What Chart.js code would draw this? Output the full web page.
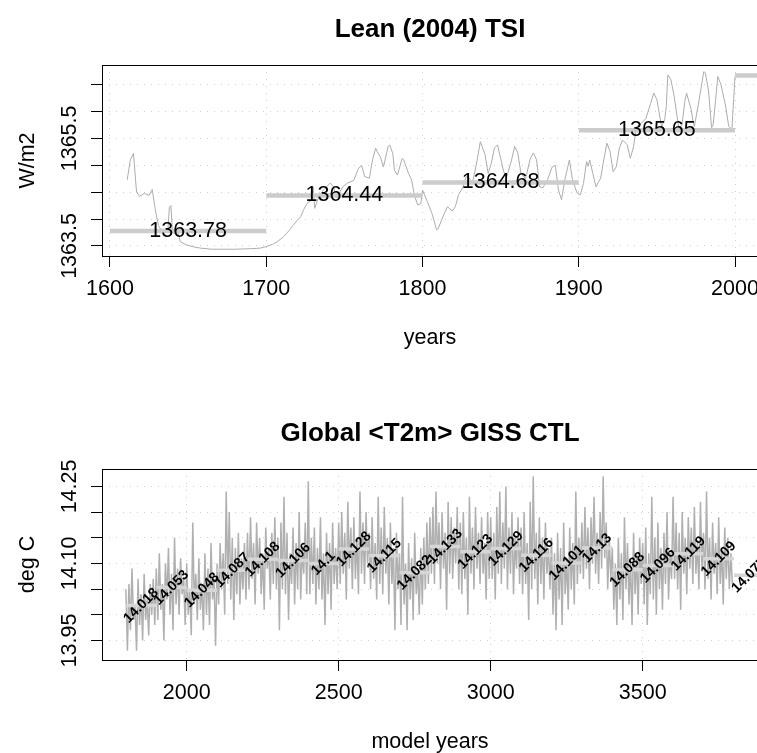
<!DOCTYPE html>
<html>
<head>
<meta charset="utf-8">
<script src="https://cdn.jsdelivr.net/npm/chart.js@4.4.0/dist/chart.umd.min.js"></script>
<style>
  html, body { margin: 0; padding: 0; background: #fff; overflow: hidden; }
  #wrap { position: relative; width: 757px; height: 753px; overflow: hidden; }
  canvas { position: absolute; left: 0; }
  #tsiChart { top: 0; }
  #t2mChart { top: 404px; }
</style>
</head>
<body>
<div id="wrap">
  <canvas id="tsiChart" width="760" height="404"></canvas>
  <canvas id="t2mChart" width="760" height="349"></canvas>
</div>
<script>
// Lean (2004) TSI
const tsiYears = [1611, 1613, 1615, 1617, 1619, 1622, 1625, 1627, 1629, 1631, 1634, 1637, 1638, 1639, 1640,
  1642, 1643, 1645, 1649, 1654, 1658, 1665, 1680, 1690, 1696, 1700, 1704, 1707, 1711, 1715, 1717, 1720,
  1722, 1724, 1726, 1729, 1730, 1731, 1734, 1737, 1741, 1743, 1745, 1749, 1752, 1756, 1759, 1761, 1763,
  1766, 1768, 1770, 1771, 1773, 1775, 1778, 1779, 1781, 1782, 1784, 1787, 1788, 1791, 1793, 1795, 1797,
  1799, 1800, 1803, 1806, 1809, 1810, 1813, 1816, 1819, 1821, 1823, 1826, 1828, 1830, 1832, 1835, 1837,
  1840, 1842, 1844, 1846, 1848, 1852, 1854, 1857, 1859, 1861, 1863, 1866, 1869, 1871, 1873, 1875, 1877,
  1880, 1883, 1885, 1887, 1889, 1891, 1894, 1896, 1899, 1901, 1903, 1905, 1906, 1907, 1909, 1911, 1914,
  1916, 1918, 1920, 1922, 1924, 1926, 1928, 1931, 1933, 1935, 1937, 1939, 1941, 1943, 1946, 1948, 1950,
  1953, 1955, 1956, 1957, 1959, 1961, 1964, 1966, 1968, 1969, 1972, 1973, 1974, 1977, 1980, 1981, 1983,
  1985, 1986, 1988, 1989, 1991, 1994, 1996, 1998, 2000];
const tsiValues = [1364.73, 1365.10, 1365.22, 1364.50, 1364.42, 1364.48, 1364.44, 1364.55, 1364.17, 1363.88,
  1363.74, 1363.78, 1364.22, 1364.25, 1363.75, 1363.72, 1363.82, 1363.58, 1363.52, 1363.48, 1363.46, 1363.44,
  1363.44, 1363.45, 1363.46, 1363.49, 1363.53, 1363.58, 1363.67, 1363.80, 1363.88, 1363.98, 1364.04, 1364.18,
  1364.29, 1364.35, 1364.60, 1364.20, 1364.45, 1364.55, 1364.67, 1364.60, 1364.40, 1364.60, 1364.67, 1364.72,
  1364.94, 1365.00, 1364.79, 1364.76, 1365.10, 1365.32, 1365.25, 1365.16, 1364.97, 1365.35, 1365.38, 1365.22,
  1364.91, 1364.82, 1365.13, 1365.10, 1364.85, 1364.73, 1364.42, 1364.26, 1364.29, 1364.54, 1364.33, 1364.11,
  1363.80, 1363.82, 1364.04, 1364.23, 1364.15, 1364.23, 1364.45, 1364.60, 1364.79, 1364.76, 1364.67, 1365.10,
  1365.44, 1365.20, 1364.85, 1365.03, 1365.32, 1365.38, 1364.88, 1364.79, 1365.10, 1365.35, 1365.23, 1364.85,
  1364.75, 1365.13, 1365.23, 1365.10, 1364.60, 1364.58, 1364.73, 1364.97, 1365.00, 1364.54, 1364.36, 1364.72,
  1365.10, 1364.73, 1364.48, 1364.45, 1364.66, 1365.07, 1364.98, 1365.10, 1364.85, 1364.60, 1364.76, 1365.10,
  1365.41, 1365.26, 1364.88, 1364.97, 1365.32, 1365.47, 1365.38, 1365.13, 1365.34, 1365.72, 1365.75, 1365.81,
  1365.87, 1366.15, 1366.34, 1366.22, 1365.72, 1365.85, 1366.09, 1366.68, 1366.59, 1366.29, 1365.70, 1365.74,
  1366.21, 1366.34, 1366.03, 1365.84, 1365.72, 1366.21, 1366.74, 1366.72, 1366.40, 1365.70, 1365.75, 1366.34,
  1366.65, 1366.50, 1366.10, 1365.72, 1365.67, 1366.65];
const tsiSegStart = [1600, 1700, 1800, 1900, 2000];
const tsiSegEnd = [1700, 1800, 1900, 2000, 2100];
const tsiSegMean = [1363.78, 1364.44, 1364.68, 1365.65, 1366.67];
const tsiXTicks = [1600, 1700, 1800, 1900, 2000];
const tsiYTicks = [1363.5, 1364, 1364.5, 1365, 1365.5, 1366, 1366.5];
const tsiYLabels = ['1363.5', '', '', '', '1365.5', '', ''];

// Global <T2m>, GISS control run, one reading every 5 model years from 1800
const t2mValues = [
  14.05, 13.93, 14.06, 13.97, 14.09, 13.99, 14.02, 13.93, 14.07, 13.98, 14.04, 13.95, 14.08, 13.99, 14.03, 13.96, 14.06, 14.00, 14.07, 13.98,
  14.09, 13.99, 14.12, 14.01, 14.06, 13.95, 14.10, 14.03, 14.13, 14.00, 14.08, 13.97, 14.15, 14.02, 14.09, 14.00, 14.11, 14.04, 14.07, 13.98,
  14.10, 14.00, 14.05, 13.96, 14.18, 14.02, 14.08, 13.99, 14.11, 14.01, 14.06, 13.97, 14.12, 14.00, 14.09, 13.98, 14.14, 14.03, 14.07, 13.94,
  14.10, 14.02, 14.14, 14.05, 14.12, 14.00, 14.24, 14.06, 14.20, 14.03, 14.15, 13.99, 14.13, 14.04, 14.16, 14.02, 14.11, 14.05, 14.14, 14.03,
  14.16, 14.05, 14.19, 14.07, 14.14, 14.02, 14.18, 14.08, 14.15, 14.04, 14.12, 14.01, 14.17, 14.09, 14.13, 14.03, 14.16, 14.06, 14.19, 14.05,
  14.15, 13.97, 14.18, 14.05, 14.23, 14.04, 14.16, 13.99, 14.12, 14.06, 14.17, 14.02, 14.14, 14.05, 14.20, 14.03, 14.13, 14.08, 14.18, 14.04,
  14.26, 14.04, 14.15, 14.06, 14.17, 14.02, 14.13, 14.05, 14.19, 14.03, 14.12, 13.98, 14.16, 14.04, 14.14, 14.01, 14.18, 14.06, 14.13, 14.05,
  14.18, 14.06, 14.20, 14.08, 14.16, 14.03, 14.22, 14.09, 14.17, 14.05, 14.19, 14.07, 14.15, 14.04, 14.24, 14.08, 14.18, 14.06, 14.20, 14.10,
  14.16, 14.05, 14.19, 14.07, 14.14, 14.03, 14.23, 14.06, 14.17, 14.04, 14.21, 14.08, 14.15, 14.02, 14.18, 14.06, 14.13, 13.97, 14.16, 14.05,
  14.12, 13.98, 14.23, 14.02, 14.10, 13.97, 14.14, 14.03, 14.11, 13.99, 14.16, 14.04, 14.09, 14.00, 14.13, 14.02, 14.15, 14.05, 14.18, 14.06,
  14.19, 14.08, 14.21, 14.06, 14.24, 14.10, 14.18, 14.05, 14.20, 14.09, 14.16, 14.01, 14.22, 14.08, 14.19, 14.07, 14.17, 14.10, 14.21, 14.05,
  14.18, 14.04, 14.20, 14.07, 14.15, 14.00, 14.23, 14.08, 14.17, 14.05, 14.21, 14.09, 14.16, 14.06, 14.19, 14.08, 14.14, 14.03, 14.20, 14.07,
  14.19, 14.07, 14.16, 14.03, 14.21, 14.08, 14.24, 14.06, 14.18, 14.09, 14.25, 14.05, 14.17, 14.08, 14.20, 14.04, 14.15, 14.09, 14.19, 14.06,
  14.17, 14.04, 14.20, 14.06, 14.14, 13.99, 14.22, 14.05, 14.27, 14.07, 14.16, 14.02, 14.19, 14.06, 14.15, 14.03, 14.18, 14.08, 14.13, 14.05,
  14.15, 14.00, 14.12, 13.97, 14.16, 14.03, 14.13, 13.98, 14.18, 14.04, 14.11, 14.01, 14.17, 14.05, 14.14, 14.02, 14.24, 14.06, 14.15, 14.08,
  14.18, 14.07, 14.21, 14.09, 14.17, 14.05, 14.19, 14.10, 14.23, 14.08, 14.16, 14.06, 14.20, 14.09, 14.27, 14.11, 14.18, 14.05, 14.15, 14.07,
  14.13, 14.01, 14.10, 13.98, 14.15, 14.03, 14.12, 13.99, 14.19, 14.05, 14.14, 14.02, 14.11, 13.98, 14.16, 14.04, 14.12, 14.00, 14.15, 14.06,
  14.14, 14.02, 14.17, 13.98, 14.12, 14.04, 14.23, 14.03, 14.15, 14.00, 14.18, 14.05, 14.13, 14.01, 14.16, 14.06, 14.20, 14.03, 14.12, 14.07,
  14.23, 14.07, 14.18, 14.05, 14.16, 14.01, 14.20, 14.08, 14.15, 14.04, 14.19, 14.09, 14.17, 14.06, 14.21, 14.08, 14.14, 14.05, 14.22, 14.09,
  14.16, 14.05, 14.24, 14.07, 14.15, 14.03, 14.18, 14.08, 14.14, 14.04, 14.19, 14.06, 14.13, 14.02, 14.17, 14.07, 14.15, 14.05, 14.12, 14.06
];
const t2mYears = t2mValues.map((v, i) => 1800 + 5 * i);
const t2mSegStart = [1800, 1900, 2000, 2100, 2200, 2300, 2400, 2500, 2600, 2700, 2800,
  2900, 3000, 3100, 3200, 3300, 3400, 3500, 3600, 3700, 3800];
const t2mSegEnd = t2mSegStart.map(s => s + 100);
const t2mSegMean = [14.018, 14.053, 14.048, 14.087, 14.108, 14.106, 14.1, 14.128, 14.115, 14.082, 14.133,
  14.123, 14.129, 14.116, 14.101, 14.13, 14.088, 14.096, 14.119, 14.109, 14.077];
const t2mXTicks = [2000, 2500, 3000, 3500];
const t2mYTicks = [13.95, 14.0, 14.05, 14.1, 14.15, 14.2, 14.25];
const t2mYLabels = ['13.95', '', '', '14.10', '', '', '14.25'];

const FONT = '"Liberation Sans", Arial, Helvetica, sans-serif';

// one R-style panel: boxed plot, dotted grid, outside ticks, mean bars with labels
function makePanel(id, p) {
  const el = document.getElementById(id);
  const H = el.height;

  const segPoints = [];
  p.segStart.forEach((s, i) => {
    segPoints.push({ x: s, y: p.segMean[i] }, { x: p.segEnd[i], y: p.segMean[i] }, { x: p.segEnd[i], y: null });
  });

  const panelText = {
    id: 'panelText',
    afterDatasetsDraw(chart) {
      const { ctx, chartArea: a, scales: { x, y } } = chart;
      ctx.save();
      ctx.beginPath();
      ctx.rect(a.left, a.top, a.width, a.height);
      ctx.clip();
      ctx.fillStyle = '#000';
      ctx.font = p.segFont;
      ctx.textAlign = 'center';
      ctx.textBaseline = 'middle';
      p.segStart.forEach((s, i) => {
        const px = x.getPixelForValue((s + p.segEnd[i]) / 2);
        const py = y.getPixelForValue(p.segMean[i]);
        ctx.save();
        ctx.translate(px, py);
        ctx.rotate(-p.segRot * Math.PI / 180);
        ctx.fillText(String(p.segMean[i]), 0, 0);
        ctx.restore();
      });
      ctx.restore();
    },
    afterDraw(chart) {
      const { ctx, chartArea: a, scales: { y } } = chart;
      ctx.save();
      ctx.strokeStyle = '#000';
      ctx.lineWidth = 1;
      ctx.strokeRect(Math.round(a.left) + 0.5, Math.round(a.top) + 0.5, Math.round(a.width), Math.round(a.height));

      ctx.fillStyle = '#000';
      ctx.font = '21.5px ' + FONT;
      ctx.textAlign = 'center';
      ctx.textBaseline = 'alphabetic';
      p.yTicks.forEach((v, i) => {
        if (!p.yLabels[i]) return;
        ctx.save();
        ctx.translate(75.5, y.getPixelForValue(v));
        ctx.rotate(-Math.PI / 2);
        ctx.fillText(p.yLabels[i], 0, 0);
        ctx.restore();
      });
      ctx.save();
      ctx.translate(33.5, (a.top + a.bottom) / 2);
      ctx.rotate(-Math.PI / 2);
      ctx.fillText(p.ylab, 0, 0);
      ctx.restore();
      ctx.fillText(p.xlab, 430, 343.5);

      ctx.font = 'bold 26px ' + FONT;
      ctx.fillText(p.title, 430, 36.5);
      ctx.restore();
    }
  };

  return new Chart(el, {
    type: 'line',
    data: {
      datasets: [
        {
          data: p.years.map((yr, i) => ({ x: yr, y: p.values[i] })),
          borderColor: p.lineColor,
          borderWidth: p.lineWidth,
          pointRadius: 0,
          tension: 0,
          order: 2
        },
        {
          data: segPoints,
          borderColor: p.segColor,
          borderWidth: p.segWidth,
          borderCapStyle: 'butt',
          pointRadius: 0,
          spanGaps: false,
          order: 1
        }
      ]
    },
    options: {
      responsive: false,
      animation: false,
      devicePixelRatio: 1,
      layout: { padding: { top: 65, right: 2, left: 0, bottom: 0 } },
      plugins: { legend: { display: false }, tooltip: { enabled: false } },
      scales: {
        x: {
          type: 'linear',
          min: p.xMin,
          max: p.xMax,
          afterBuildTicks: s => { s.ticks = p.xTicks.map(v => ({ value: v })); },
          // fixed height, and no extra room for the last label (it runs off the page as in R)
          afterFit: s => { s.height = H - 256; s.paddingLeft = 0; s.paddingRight = 0; },
          grid: { color: '#cfcfcf', lineWidth: 1, tickColor: '#000', tickLength: 11, tickBorderDash: [] },
          border: { display: false, dash: [1, 6] },
          ticks: {
            color: '#000',
            font: { family: FONT, size: 21.5 },
            padding: 9,
            maxRotation: 0,
            autoSkip: false,
            callback: v => String(v)
          }
        },
        y: {
          type: 'linear',
          min: p.yMin,
          max: p.yMax,
          afterBuildTicks: s => { s.ticks = p.yTicks.map(v => ({ value: v })); },
          afterFit: s => { s.width = 102; s.paddingTop = 0; s.paddingBottom = 0; },
          grid: { color: '#cfcfcf', lineWidth: 1, tickColor: '#000', tickLength: 11, tickBorderDash: [] },
          border: { display: false, dash: [1, 6] },
          ticks: { display: false }
        }
      }
    },
    plugins: [panelText]
  });
}

makePanel('tsiChart', {
  title: 'Lean (2004) TSI', xlab: 'years', ylab: 'W/m2',
  years: tsiYears, values: tsiValues,
  segStart: tsiSegStart, segEnd: tsiSegEnd, segMean: tsiSegMean,
  xTicks: tsiXTicks, yTicks: tsiYTicks, yLabels: tsiYLabels,
  xMin: 1594.88, xMax: 2014.72, yMin: 1363.314, yMax: 1366.864,
  lineColor: '#acacac', lineWidth: 1,
  segColor: '#cccccc', segWidth: 4.5,
  segFont: '21.5px ' + FONT, segRot: 0
});

makePanel('t2mChart', {
  title: 'Global <T2m> GISS CTL', xlab: 'model years', ylab: 'deg C',
  years: t2mYears, values: t2mValues,
  segStart: t2mSegStart, segEnd: t2mSegEnd, segMean: t2mSegMean,
  xTicks: t2mXTicks, yTicks: t2mYTicks, yLabels: t2mYLabels,
  xMin: 1721.4, xMax: 3879.3, yMin: 13.912, yMax: 14.284,
  lineColor: '#b0b0b0', lineWidth: 1.5,
  segColor: '#d6d6d6', segWidth: 3.5,
  segFont: 'bold 14px ' + FONT, segRot: 45
});
</script>
</body>
</html>
